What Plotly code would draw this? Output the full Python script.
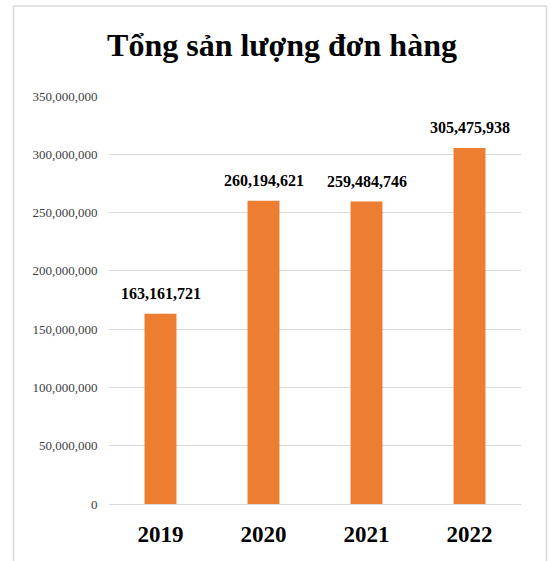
import plotly.graph_objects as go

years = ["2019", "2020", "2021", "2022"]
orders = [163161721, 260194621, 259484746, 305475938]
y_ticks = [0, 50000000, 100000000, 150000000, 200000000, 250000000, 300000000, 350000000]
title_text = "Tổng sản lượng đơn hàng"

FONT = "Liberation Serif, Times New Roman, serif"

fig = go.Figure()
fig.add_trace(go.Bar(
    x=years, y=orders,
    marker=dict(color="#ED7D31", line=dict(width=0)),
    width=0.31,
    hoverinfo="skip",
))

for i, v in enumerate(orders):
    fig.add_annotation(
        x=i, y=v, xref="x", yref="y",
        text=f"<b>{v:,}</b>", showarrow=False,
        yanchor="middle", yshift=20,
        font=dict(family=FONT, size=16, color="#000000"),
    )

fig.add_shape(
    type="rect", xref="paper", yref="paper",
    x0=-0.2318, x1=1.0619, y0=-0.25, y1=1.2203,
    line=dict(color="#D9D9D9", width=1.5), fillcolor="rgba(0,0,0,0)",
    layer="below",
)

fig.update_layout(
    width=551, height=561,
    margin=dict(l=109, r=30, t=96, b=57),
    paper_bgcolor="white", plot_bgcolor="white",
    showlegend=False,
    title=dict(
        text=f"<b>{title_text}</b>",
        font=dict(family=FONT, size=32, color="#000000"),
        x=282 / 551, xanchor="center", xref="container",
        y=1 - 45 / 561, yanchor="middle", yref="container",
    ),
    xaxis=dict(
        type="category",
        range=[-0.5, len(years) - 0.5],
        showgrid=False, showline=False, zeroline=False,
        ticks="outside", ticklen=9, tickcolor="rgba(0,0,0,0)",
        tickvals=years,
        ticktext=[f"<b>{y}</b>" for y in years],
        tickfont=dict(family=FONT, size=23, color="#000000"),
    ),
    yaxis=dict(
        range=[0, 350000000],
        tickvals=y_ticks,
        ticktext=[f"{t:,}" for t in y_ticks],
        showgrid=True, gridcolor="#D9D9D9", gridwidth=1,
        zeroline=True, zerolinecolor="#D9D9D9", zerolinewidth=1,
        showline=False,
        ticks="outside", ticklen=8, tickcolor="rgba(0,0,0,0)",
        tickfont=dict(family=FONT, size=13, color="#404040"),
    ),
)

fig.write_html("out.html")
